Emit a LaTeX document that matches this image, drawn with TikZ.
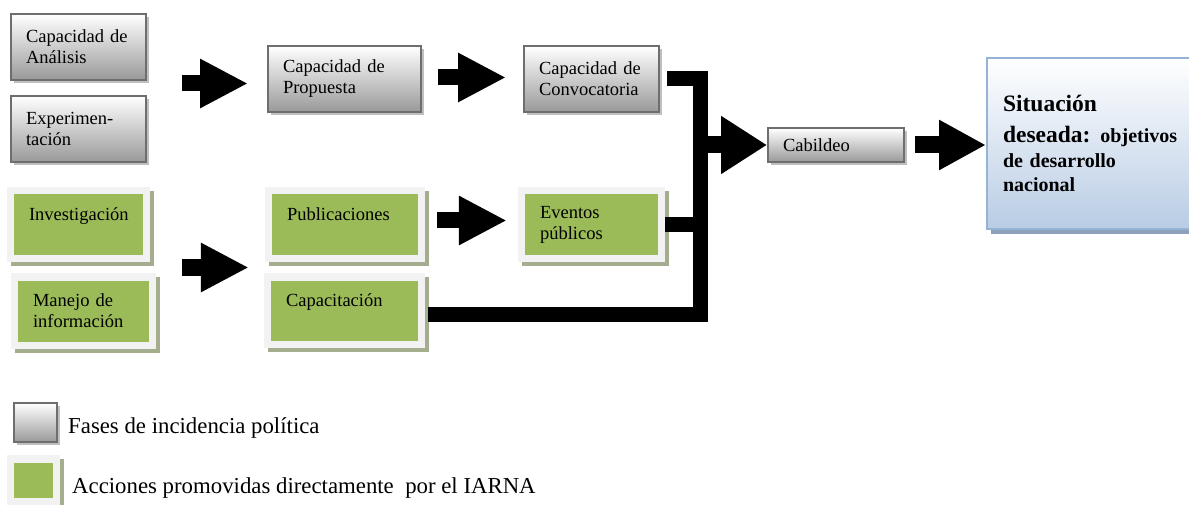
\documentclass[tikz,border=0pt]{standalone}
\usepackage{fontspec}
\setmainfont{Liberation Serif}
\usetikzlibrary{arrows.meta,shadows}

\definecolor{faseborde}{HTML}{6E6E6E}
\definecolor{faseabajo}{HTML}{999999}
\definecolor{iarnaverde}{HTML}{9BBB59}
\definecolor{marco}{HTML}{F2F2F2}
\definecolor{sombraverde}{HTML}{A4AD8D}
\definecolor{metaborde}{HTML}{95B3D7}
\definecolor{metaabajo}{HTML}{B8CCE4}
\definecolor{sombrameta}{HTML}{8EA1BA}

\begin{document}
\begin{tikzpicture}[x=1pt, y=-1pt,
    fase/.style={rectangle, draw=faseborde, line width=2pt, top color=white, bottom color=faseabajo,
        drop shadow={shadow xshift=3pt, shadow yshift=-3pt, fill=black!25, opacity=1},
        inner xsep=15pt, inner ysep=0pt, align=left, text width=#1, font=\fontsize{18.5}{21}\selectfont},
    accion/.style={rectangle, fill=marco,
        drop shadow={shadow xshift=4pt, shadow yshift=-4pt, fill=sombraverde, opacity=1},
        path picture={\fill[iarnaverde] ([shift={(7pt,-7.5pt)}]path picture bounding box.north west)
            rectangle ([shift={(-7pt,7pt)}]path picture bounding box.south east);},
        inner xsep=22pt, inner ysep=0pt, align=left, text width=#1, font=\fontsize{18.5}{21}\selectfont},
    meta/.style={rectangle, draw=metaborde, line width=2pt, top color=white, bottom color=metaabajo,
        drop shadow={shadow xshift=4pt, shadow yshift=-5pt, fill=sombrameta, opacity=1},
        inner xsep=16pt, inner ysep=0pt, align=left, text width=185pt, minimum height=171pt,
        font=\bfseries\fontsize{20}{24.5}\selectfont},
    flecha/.style={line width=16pt, -{Triangle[length=48pt,width=46pt]}},
    enlace/.style={line width=15pt, line join=miter},
    leyenda/.style={font=\fontsize{22.8}{27}\selectfont, inner sep=0pt}
]
\useasboundingbox (0,0) rectangle (1189,505);
\clip (0,0) rectangle (1189,505);

% Fases de incidencia
\node[fase=105pt, minimum height=66pt] (analisis) at (78.5,47) {Capacidad de\\Análisis};
\node[fase=105pt, minimum height=66pt] (experimentacion) at (78.5,129) {Experimen-\\tación};
\node[fase=123pt, minimum height=66pt] (propuesta) at (344.5,79) {Capacidad de\\Propuesta};
\node[fase=105pt, minimum height=66pt] (convocatoria) at (591.5,79) {Capacidad de\\Convocatoria};
\node[fase=106pt, minimum height=34pt] (cabildeo) at (836,145) {Cabildeo};

% Acciones del IARNA
\node[accion=99pt, minimum height=75pt] (investigacion) at (78.5,224.5) {Investigación\\\mbox{}};
\node[accion=101pt, minimum height=76pt] (manejo) at (83.5,311) {Manejo de\\información};
\node[accion=116pt, minimum height=75pt] (publicaciones) at (345,224.5) {Publicaciones\\\mbox{}};
\node[accion=103pt, minimum height=75pt] (eventos) at (591.5,224.5) {Eventos\\públicos};
\node[accion=117pt, minimum height=75pt] (capacitacion) at (344.5,310.5) {Capacitación\\\mbox{}};

% Meta
\node[meta, anchor=west] (situacion) at (986,143.5)
    {{\fontsize{23.5}{24.5}\selectfont Situación}\\[7pt]{\fontsize{23.5}{24.5}\selectfont deseada:} objetivos\\de desarrollo\\nacional};

% Flechas
\coordinate (fases) at (182,83.5);
\coordinate (acciones) at (182,267.5);
\coordinate (cruce) at (700,145);
\draw[flecha, shorten >=19pt] (fases) -- (fases -| propuesta.west);
\draw[flecha, shorten >=16pt] (acciones) -- (acciones -| publicaciones.west);
\draw[flecha, shorten <=16pt, shorten >=17pt] ([yshift=1.5pt]propuesta.east) -- ([yshift=1.5pt]convocatoria.west);
\draw[flecha, shorten <=12pt, shorten >=11pt] ([yshift=4pt]publicaciones.east) -- ([yshift=4pt]eventos.west);

% Enlaces hacia el cabildeo
\draw[enlace] ([xshift=7pt]convocatoria.east) -| (cruce) |- ([xshift=3pt,yshift=-4pt]capacitacion.east);
\draw[enlace] (eventos.east) -- (eventos.east -| cruce);
\draw[line width=17pt, -{Triangle[length=46pt,width=55pt]}] (cruce) -- (cabildeo);
\draw[line width=17pt, -{Triangle[length=47pt,width=47pt]}] ([xshift=10pt]cabildeo.east) -- (cabildeo.east -| situacion.west);

% Leyenda
\node[fase=13pt, minimum height=39pt] (fasemuestra) at (35.5,422.5) {};
\node[accion=9pt, minimum height=50pt] (accionmuestra) at (33.5,480) {};
\node[leyenda, anchor=base west] (faseslabel) at (68,433) {Fases de incidencia política};
\node[leyenda, anchor=base west] (accioneslabel) at (72,493) {Acciones promovidas directamente~ por el IARNA};

\end{tikzpicture}
\end{document}
